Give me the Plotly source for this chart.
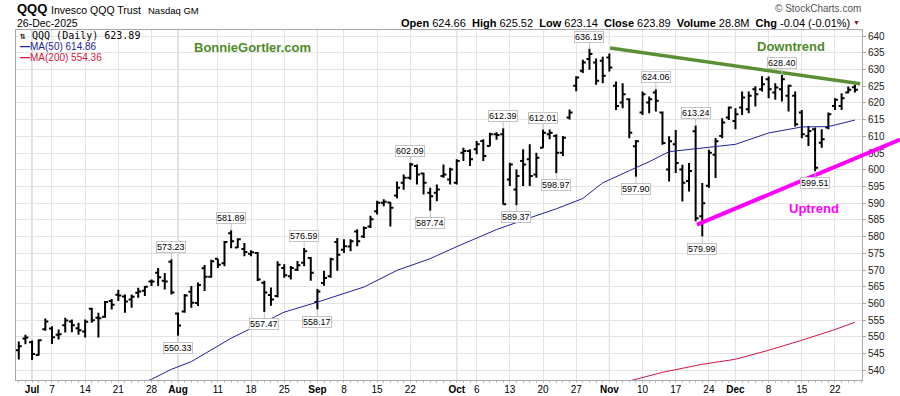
import pandas as pd
import plotly.graph_objects as go

# ---------------- data ----------------
HOLIDAYS = ["2025-07-04", "2025-09-01", "2025-11-27", "2025-12-25"]
dates = [d for d in pd.bdate_range("2025-06-27", "2025-12-26")
         if d.strftime("%Y-%m-%d") not in HOLIDAYS]
date_str = [d.strftime("%Y-%m-%d") for d in dates]

opens = [546.0, 549.5, 548.4, 544.6, 552.3, 552.5, 550.6, 553.5, 554.6, 552.6,
         551.6, 558.4, 555.7, 556.0, 560.7, 562.6, 562.1, 561.2, 563.2, 563.8,
         566.6, 569.2, 566.8, 572.5, 557.0, 557.6, 563.5, 560.1, 570.5, 568.0,
         573.4, 572.0, 581.0, 576.7, 576.3, 574.9, 575.1, 566.2, 562.5, 562.2,
         570.6, 568.1, 570.1, 572.2, 573.6, 560.4, 566.1, 568.1, 578.4, 576.1,
         577.0, 581.5, 580.0, 583.0, 587.6, 590.1, 590.2, 592.3, 596.1, 597.6,
         601.1, 598.9, 593.1, 593.1, 598.1, 597.1, 596.1, 605.1, 605.6, 606.1,
         608.6, 607.1, 610.6, 610.6, 597.1, 594.1, 602.6, 603.1, 598.6, 606.6,
         610.6, 610.1, 605.1, 615.6, 625.1, 629.6, 633.1, 632.1, 632.6, 633.6,
         625.1, 620.1, 621.1, 607.0, 617.1, 620.1, 623.1, 617.1, 600.1, 607.6,
         600.1, 596.6, 611.5, 586.1, 595.2, 604.5, 610.1, 615.6, 614.6, 618.6,
         618.1, 624.1, 624.1, 627.1, 623.1, 624.1, 622.1, 622.1, 617.1, 610.1,
         612.1, 608.1, 612.6, 619.1, 619.1, 623.1, 624.66]
highs = [548.6, 550.6, 548.9, 549.3, 555.5, 553.2, 552.2, 555.7, 555.2, 554.2,
         555.2, 558.7, 557.2, 560.7, 561.3, 564.1, 562.7, 562.7, 564.7, 565.2,
         567.2, 570.6, 569.1, 573.23, 557.3, 562.8, 565.2, 566.3, 571.5, 573.1,
         573.4, 578.7, 581.89, 579.5, 578.1, 575.9, 575.4, 566.8, 564.8, 572.6,
         571.7, 571.2, 572.7, 576.59, 573.9, 564.3, 569.8, 573.7, 579.6, 579.2,
         579.2, 582.2, 583.0, 586.2, 590.7, 591.2, 590.3, 596.5, 598.6, 602.09,
         601.6, 599.1, 594.6, 595.6, 601.6, 600.6, 603.1, 606.6, 606.1, 608.6,
         609.1, 611.1, 611.2, 612.39, 602.1, 600.1, 606.1, 607.6, 605.1, 612.01,
         612.0, 610.6, 610.1, 618.0, 628.0, 632.9, 636.19, 633.3, 633.8, 634.8,
         626.4, 625.9, 621.4, 608.9, 623.4, 621.9, 624.06, 617.4, 610.0, 611.9,
         601.5, 602.0, 613.24, 596.0, 606.0, 609.5, 615.4, 618.9, 618.4, 623.4,
         623.4, 625.0, 628.0, 627.9, 625.9, 628.40, 625.4, 623.4, 617.9, 613.1,
         612.6, 612.1, 617.1, 621.4, 622.9, 624.9, 625.52]
lows = [543.2, 547.8, 543.1, 544.4, 551.8, 547.9, 549.2, 551.3, 551.4, 550.6,
        549.8, 554.2, 549.8, 555.7, 558.2, 560.7, 557.2, 558.7, 561.7, 562.2,
        565.2, 565.2, 564.2, 562.7, 550.33, 557.2, 558.7, 559.2, 563.7, 567.7,
        570.6, 571.1, 576.5, 576.6, 574.1, 574.1, 566.7, 557.47, 559.3, 561.8,
        567.7, 567.2, 569.7, 571.1, 566.8, 558.17, 565.3, 567.7, 569.8, 575.1,
        575.6, 577.1, 579.6, 582.6, 586.6, 589.1, 583.0, 591.5, 594.0, 597.0,
        595.6, 592.6, 587.74, 590.6, 597.6, 595.6, 595.6, 602.6, 601.1, 604.6,
        602.6, 607.0, 609.0, 589.6, 595.1, 589.37, 595.1, 595.1, 597.6, 606.5,
        609.1, 598.97, 604.1, 615.0, 623.5, 628.9, 629.9, 625.4, 625.9, 629.4,
        617.9, 618.4, 609.4, 597.90, 616.4, 616.9, 617.4, 607.5, 596.5, 599.0,
        590.5, 593.5, 584.6, 579.99, 594.6, 597.5, 609.4, 614.9, 612.1, 616.4,
        616.9, 618.9, 623.4, 621.4, 620.9, 620.4, 617.4, 612.9, 609.4, 607.1,
        599.51, 606.6, 612.1, 617.9, 617.9, 622.9, 623.14]
closes = [547.2, 549.8, 544.9, 549.0, 554.6, 549.9, 550.8, 554.9, 553.5, 552.0,
          554.5, 555.0, 555.6, 560.4, 559.6, 562.4, 560.6, 562.0, 563.6, 565.0,
          566.6, 567.8, 566.6, 563.3, 553.4, 562.4, 560.2, 565.5, 568.0, 572.6,
          571.6, 578.4, 578.6, 579.2, 575.4, 575.3, 567.2, 563.3, 561.2, 571.6,
          568.4, 570.6, 571.4, 575.6, 569.2, 563.6, 567.6, 573.2, 574.6, 577.1,
          578.6, 578.6, 582.6, 585.2, 590.1, 590.4, 588.6, 594.6, 597.6, 601.6,
          598.6, 596.1, 592.1, 594.1, 598.6, 600.1, 602.6, 605.6, 603.1, 607.6,
          604.1, 610.6, 610.4, 589.7, 601.6, 598.1, 601.6, 598.1, 603.6, 611.1,
          611.1, 605.1, 609.6, 617.1, 627.6, 632.1, 634.6, 626.6, 628.1, 630.6,
          619.1, 622.6, 611.1, 608.5, 622.6, 621.1, 620.6, 608.0, 608.5, 602.0,
          596.1, 599.6, 585.5, 590.0, 605.1, 608.5, 614.1, 618.6, 616.6, 621.6,
          622.1, 622.6, 625.6, 624.1, 624.6, 627.1, 625.1, 613.6, 610.6, 611.6,
          600.6, 609.1, 616.6, 620.9, 621.4, 623.9, 623.89]

ma50_dates = ["2025-07-23", "2025-07-28", "2025-07-31", "2025-08-05", "2025-08-13",
              "2025-08-25", "2025-09-02", "2025-09-11", "2025-09-18", "2025-09-25",
              "2025-10-01", "2025-10-09", "2025-10-16", "2025-10-22", "2025-10-28",
              "2025-10-31", "2025-11-06", "2025-11-11", "2025-11-14", "2025-11-21",
              "2025-12-01", "2025-12-08", "2025-12-15", "2025-12-19", "2025-12-26"]
ma50_vals = [535.0, 537.3, 540.3, 542.6, 549.6, 557.4, 560.4, 564.9, 569.9, 573.4,
             577.0, 582.1, 585.6, 588.3, 591.4, 596.1, 599.7, 602.4, 605.4, 606.5,
             607.6, 611.0, 612.8, 612.9, 614.86]

ma200_dates = ["2025-10-29", "2025-11-06", "2025-11-13", "2025-11-21", "2025-12-01",
               "2025-12-08", "2025-12-15", "2025-12-22", "2025-12-26"]
ma200_vals = [534.3, 536.8, 539.4, 541.8, 543.3, 546.0, 549.0, 552.2, 554.36]

tick_dates = ["2025-07-01", "2025-07-07", "2025-07-14", "2025-07-21", "2025-07-28",
              "2025-08-01", "2025-08-11", "2025-08-18", "2025-08-25", "2025-09-02",
              "2025-09-08", "2025-09-15", "2025-09-22", "2025-10-01", "2025-10-06",
              "2025-10-13", "2025-10-20", "2025-10-27", "2025-11-03", "2025-11-10",
              "2025-11-17", "2025-11-24", "2025-12-01", "2025-12-08", "2025-12-15",
              "2025-12-22"]
tick_text = ["Jul", "7", "14", "21", "28", "Aug", "11", "18", "25", "Sep", "8", "15",
             "22", "Oct", "6", "13", "20", "27", "Nov", "10", "17", "24", "Dec", "8",
             "15", "22"]
MONTHS = {"Jul", "Aug", "Sep", "Oct", "Nov", "Dec"}

label_dates = ["2025-07-31", "2025-08-01", "2025-08-13", "2025-08-20", "2025-08-28",
               "2025-09-02", "2025-09-22", "2025-09-25", "2025-10-10", "2025-10-14",
               "2025-10-20", "2025-10-22", "2025-10-29", "2025-11-07", "2025-11-12",
               "2025-11-20", "2025-11-21", "2025-12-10", "2025-12-17"]
label_vals = [573.23, 550.33, 581.89, 557.47, 576.59, 558.17, 602.09, 587.74, 612.39,
              589.37, 612.01, 598.97, 636.19, 597.90, 624.06, 613.24, 579.99, 628.40,
              599.51]
label_side = ["up", "dn", "up", "dn", "up", "dn", "up", "dn", "up", "dn", "up", "dn",
              "up", "dn", "up", "up", "dn", "up", "dn"]

# trend lines: (date index, price) end points
downtrend = [(89.1, 636.4), (126.8, 625.7)]
uptrend = [(102.2, 583.6), (132.8, 609.0)]

# ---------------- layout geometry ----------------
W, H = 900, 396
ML, MR, MT, MB = 16, 38, 30, 16
XR = [-0.42, 127.07]
YR = [537.1, 641.8]
PW, PH = W - ML - MR, H - MT - MB

idx = {s: i for i, s in enumerate(date_str)}
x = list(range(len(date_str)))


def pxp(px):
    return (px - ML) / PW


def pyp(py):
    return (H - MB - py) / PH


def dxp(d):
    return (d - XR[0]) / (XR[1] - XR[0])


def dyp(p):
    return (p - YR[0]) / (YR[1] - YR[0])


FONT = "Liberation Sans, Arial, sans-serif"

fig = go.Figure()
fig.add_trace(go.Scatter(x=[idx[d] for d in ma200_dates], y=ma200_vals, mode="lines",
                         line=dict(color="#d3173f", width=1), hoverinfo="skip"))
fig.add_trace(go.Scatter(x=[idx[d] for d in ma50_dates], y=ma50_vals, mode="lines",
                         line=dict(color="#22229a", width=1), hoverinfo="skip"))
fig.add_trace(go.Ohlc(x=x, open=opens, high=highs, low=lows, close=closes,
                      increasing=dict(line=dict(color="black", width=2)),
                      decreasing=dict(line=dict(color="black", width=2)),
                      tickwidth=0.45))

shapes = []
# month separator gridlines (darker)
for d, t in zip(tick_dates, tick_text):
    if t in MONTHS:
        shapes.append(dict(type="line", xref="x", yref="paper", x0=idx[d], x1=idx[d],
                           y0=0, y1=1, line=dict(color="#b9b9b9", width=1), layer="below"))
shapes.append(dict(type="line", xref="paper", yref="paper",
                   x0=dxp(downtrend[0][0]), y0=dyp(downtrend[0][1]),
                   x1=dxp(downtrend[1][0]), y1=dyp(downtrend[1][1]),
                   line=dict(color="#5a8f35", width=3.5)))
shapes.append(dict(type="line", xref="paper", yref="paper",
                   x0=dxp(uptrend[0][0]), y0=dyp(uptrend[0][1]),
                   x1=dxp(uptrend[1][0]), y1=dyp(uptrend[1][1]),
                   line=dict(color="#ff00ff", width=4)))

ann = []


def txt(text, px, py, size, color="black", xanchor="left", family=FONT):
    ann.append(dict(text=text, x=pxp(px), y=pyp(py), xref="paper", yref="paper",
                    xanchor=xanchor, yanchor="middle", showarrow=False,
                    font=dict(size=size, color=color, family=family)))


txt("<b>QQQ</b>", 15, 9, 13)
txt("Invesco QQQ Trust", 49, 9.5, 10.5)
txt("Nasdaq GM", 146, 10.5, 9.5)
txt("26-Dec-2025", 15, 22.5, 10.5)
txt("<b>Open</b> 624.66  <b>High</b> 625.52  <b>Low</b> 623.14  <b>Close</b> 623.89  "
    "<b>Volume</b> 28.8M  <b>Chg</b> -0.04 (-0.01%)", 852, 22.5, 11, xanchor="right")
txt("▼", 856, 23, 7, color="#8b1538", xanchor="center")
txt("© StockCharts.com", 863, 9, 10, color="#555555", xanchor="right")

txt("⇅ QQQ (Daily) 623.89", 17, 35.5, 10, family="DejaVu Sans Mono, monospace")
txt("<b>—</b>MA(50) 614.86", 18, 46.5, 10, color="#22229a")
txt("<b>—</b>MA(200) 554.36", 18, 57.5, 10, color="#d3173f")

txt("<b>BonnieGortler.com</b>", 252, 47, 13, color="#4f8a2b", xanchor="center")
txt("<b>Downtrend</b>", 790.5, 46, 13, color="#4f8a2b", xanchor="center")
txt("<b>Uptrend</b>", 813.5, 208, 13, color="#ff00ff", xanchor="center")

for d, v, s in zip(label_dates, label_vals, label_side):
    ann.append(dict(x=idx[d], y=v, xref="x", yref="y", text=f"{v:.2f}",
                    showarrow=True, arrowhead=0, arrowwidth=1, arrowcolor="#c4c4c4",
                    ax=0, ay=-12 if s == "up" else 12, standoff=0,
                    bgcolor="white", bordercolor="#c4c4c4", borderwidth=1, borderpad=0,
                    font=dict(size=9, color="black", family=FONT)))

fig.update_layout(
    width=W, height=H, margin=dict(l=ML, r=MR, t=MT, b=MB, autoexpand=False),
    paper_bgcolor="white", plot_bgcolor="white", showlegend=False,
    shapes=shapes, annotations=ann,
    xaxis=dict(range=XR, tickvals=[idx[d] for d in tick_dates],
               ticktext=[f"<b>{t}</b>" if t in MONTHS else t for t in tick_text],
               showgrid=True, gridcolor="#e4e4e4", gridwidth=1, zeroline=False,
               showline=True, linecolor="#a8a8a8", mirror=True,
               ticks="", ticklen=0, automargin=False,
               minor=dict(dtick=1, tick0=0, ticks="outside", ticklen=2,
                          tickcolor="#c0c0c0", showgrid=False),
               tickfont=dict(size=10, color="black", family=FONT),
               rangeslider=dict(visible=False), fixedrange=True),
    yaxis=dict(range=YR, side="right", dtick=5, tick0=0, showgrid=True,
               gridcolor="#e4e4e4", zeroline=False, showline=True, linecolor="#a8a8a8",
               mirror=True, ticks="outside", ticklen=3, tickcolor="#a8a8a8",
               automargin=False,
               tickfont=dict(size=10, color="#222222", family=FONT), fixedrange=True),
)

fig.write_html("out.html", config={"displayModeBar": False},
               post_script="document.body.style.margin='0';"
                           "document.body.style.overflow='hidden';")
